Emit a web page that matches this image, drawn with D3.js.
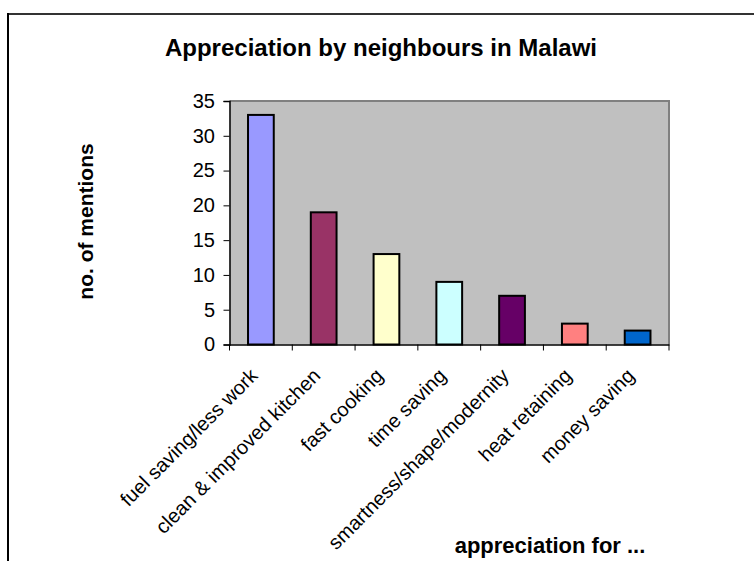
<!DOCTYPE html>
<html><head><meta charset="utf-8">
<script src="https://cdn.jsdelivr.net/npm/d3@7"></script>
<style>html,body{margin:0;padding:0;background:#fff;}svg{display:block;}</style>
</head><body>
<script>
const categories = ["fuel saving/less work","clean & improved kitchen","fast cooking","time saving","smartness/shape/modernity","heat retaining","money saving"];
const values = [33, 19, 13, 9, 7, 3, 2];
const colors = ["#9999FF","#993366","#FFFFCC","#CCFFFF","#660066","#FF8080","#0066CC"];
const yTicks = [0,5,10,15,20,25,30,35];
const title = "Appreciation by neighbours in Malawi";
const yTitle = "no. of mentions";
const xTitle = "appreciation for ...";

const W = 754, H = 561;
const plot = {left: 229.5, top: 101, right: 669, bottom: 344.5};
const font = "'Liberation Sans', Arial, sans-serif";

const svg = d3.select("body").append("svg").attr("width", W).attr("height", H);

// outer border
svg.append("line").attr("x1", 8).attr("x2", W).attr("y1", 14).attr("y2", 14).attr("stroke", "#333").attr("stroke-width", 2);
svg.append("line").attr("x1", 8).attr("x2", 8).attr("y1", 13).attr("y2", H).attr("stroke", "#000").attr("stroke-width", 2);

const x = d3.scaleBand().domain(categories).range([plot.left, plot.right]).paddingInner(0.59).paddingOuter(0.295);
const xb = d3.scaleBand().domain(categories).range([plot.left, plot.right]);
const y = d3.scaleLinear().domain([0, 35]).range([plot.bottom, plot.top]);

// plot background
svg.append("rect").attr("x", plot.left).attr("y", plot.top).attr("width", plot.right - plot.left).attr("height", plot.bottom - plot.top).attr("fill", "#C0C0C0");
svg.append("path").attr("d", `M${plot.left},${plot.top}H${plot.right}V${plot.bottom}`).attr("fill", "none").attr("stroke", "#808080").attr("stroke-width", 2);

// bars
svg.selectAll("rect.bar").data(values).enter().append("rect").attr("class", "bar")
  .attr("x", (d, i) => x(categories[i]))
  .attr("width", x.bandwidth())
  .attr("y", d => y(d))
  .attr("height", d => y(0) - y(d))
  .attr("fill", (d, i) => colors[i])
  .attr("stroke", "#000").attr("stroke-width", 2);

// y axis
const yAxis = svg.append("g").attr("transform", `translate(${plot.left},0)`)
  .call(d3.axisLeft(y).tickValues(yTicks).tickSize(6).tickPadding(8.5).tickFormat(d3.format("d")));
yAxis.select(".domain").attr("stroke", "#000").attr("stroke-width", 1.5);
yAxis.selectAll(".tick line").attr("stroke", "#000");
yAxis.selectAll("text").attr("font-family", font).attr("font-size", 20).attr("fill", "#000");

// x axis line and ticks
const xAxis = svg.append("g").attr("transform", `translate(0,${plot.bottom})`)
  .call(d3.axisBottom(xb).tickSize(0).tickFormat(""));
xAxis.select(".domain").attr("stroke", "#000").attr("stroke-width", 1.5);
const tickPos = categories.map(c => xb(c)).concat([plot.right]);
svg.selectAll("line.xt").data(tickPos).enter().append("line").attr("class", "xt")
  .attr("x1", d => d).attr("x2", d => d).attr("y1", plot.bottom).attr("y2", plot.bottom + 6)
  .attr("stroke", "#000").attr("stroke-width", 1);

// x labels rotated
svg.selectAll("text.xl").data(categories).enter().append("text").attr("class", "xl")
  .attr("transform", d => `translate(${xb(d) + xb.bandwidth() / 2 - 2},377) rotate(-45)`)
  .attr("text-anchor", "end")
  .attr("font-family", font).attr("font-size", 20).attr("fill", "#000")
  .text(d => d);

// title
svg.append("text").attr("x", 381).attr("y", 56).attr("text-anchor", "middle")
  .attr("font-family", font).attr("font-size", 24).attr("font-weight", "bold").text(title);
// y title
svg.append("text").attr("transform", "translate(93,221.5) rotate(-90)").attr("text-anchor", "middle")
  .attr("font-family", font).attr("font-size", 21).attr("font-weight", "bold").text(yTitle);
// x title
svg.append("text").attr("x", 550).attr("y", 553).attr("text-anchor", "middle")
  .attr("font-family", font).attr("font-size", 22).attr("font-weight", "bold").text(xTitle);
</script>
</body></html>
